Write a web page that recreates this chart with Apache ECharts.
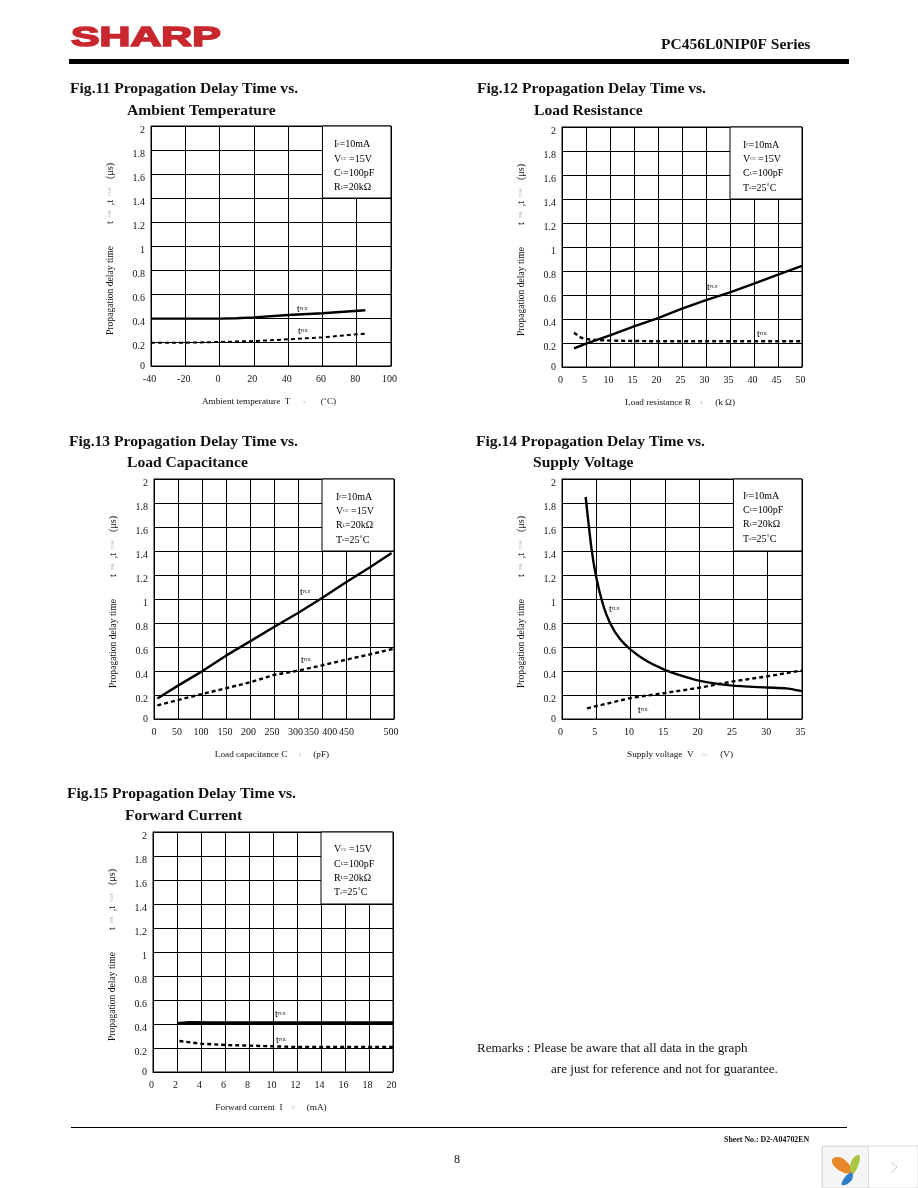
<!DOCTYPE html>
<html><head><meta charset="utf-8">
<style>html,body{margin:0;padding:0;background:#fff}#c{width:918px;height:1188px}</style>
<script src="https://cdn.jsdelivr.net/npm/echarts@6/dist/echarts.min.js"></script>
</head><body><div id="c"></div>
<script>
// ---------- data ----------
const yTicks = [0,0.2,0.4,0.6,0.8,1,1.2,1.4,1.6,1.8,2];

const f11PlhX = [-40,-20,0,10,20,40,60,85];
const f11PlhY = [0.395,0.395,0.395,0.398,0.405,0.425,0.44,0.465];
const f11PhlX = [-40,-20,0,20,40,60,85];
const f11PhlY = [0.194,0.194,0.2,0.208,0.222,0.239,0.27];

const f12PlhX = [2.5,5,10,15,20,25,30,35,40,45,50];
const f12PlhY = [0.155,0.195,0.264,0.339,0.408,0.486,0.558,0.622,0.694,0.77,0.842];
const f12PhlX = [2.5,4,5,7,10,20,50];
const f12PhlY = [0.286,0.244,0.233,0.225,0.22,0.214,0.214];

const f13PlhX = [7,50,100,150,200,250,300,350,400,450,495];
const f13PlhY = [0.17,0.278,0.397,0.528,0.647,0.767,0.883,1.008,1.14,1.264,1.383];
const f13PhlX = [7,50,100,150,200,250,300,350,400,450,500];
const f13PhlY = [0.114,0.158,0.208,0.256,0.306,0.367,0.403,0.447,0.494,0.539,0.586];
const f13TickValues = [0,50,100,150,200,250,300,350,400,450,500];
const f13TickAnchors = [0,48,98,148,197,246,295,328,366,401,494];

const f14PlhX = [3.45,4.3,5,6,7,8.4,10,12.3,15,17.5,20,22.5,25,30,32.7,35];
const f14PlhY = [1.85,1.42,1.18,0.95,0.8,0.67,0.578,0.485,0.41,0.36,0.32,0.295,0.278,0.262,0.255,0.232];
const f14PhlX = [3.65,10,15,20,25,30,35];
const f14PhlY = [0.089,0.175,0.217,0.26,0.314,0.356,0.405];

const f15PlhX = [2,3,5,10,15,20];
const f15PlhY = [0.405,0.412,0.41,0.41,0.41,0.41];
const f15PhlX = [2.2,4,6,8,10,12,20];
const f15PhlY = [0.258,0.236,0.225,0.22,0.214,0.208,0.208];

const notes11 = [['I','F','=10mA'],['V','CC',' =15V'],['C','L','=100pF'],['R','L','=20kΩ']];
const notes12 = [['I','F','=10mA'],['V','CC',' =15V'],['C','L','=100pF'],['T','a','=25˚C']];
const notes13 = [['I','F','=10mA'],['V','CC',' =15V'],['R','L','=20kΩ'],['T','a','=25˚C']];
const notes14 = [['I','F','=10mA'],['C','L','=100pF'],['R','L','=20kΩ'],['T','a','=25˚C']];
const notes15 = [['V','CC',' =15V'],['C','L','=100pF'],['R','L','=20kΩ'],['T','a','=25˚C']];

// ---------- layout ----------
const SERIF = '"Liberation Serif","Times New Roman",serif';
const richBase = {
  m:{fontFamily:SERIF,fontSize:10,color:'#111'},
  a:{fontFamily:SERIF,fontSize:9.2,color:'#111'},
  ay:{fontFamily:SERIF,fontSize:9.6,color:'#111'},
  s:{fontFamily:SERIF,fontSize:4,color:'#999'},
  g:{fontFamily:SERIF,fontSize:4,color:'#999',width:22,align:'right'},
  g2:{fontFamily:SERIF,fontSize:4,color:'#999',width:26,align:'right'},
  g3:{fontFamily:SERIF,fontSize:4,color:'#999',width:28,align:'right'},
  gy:{fontFamily:SERIF,fontSize:4,color:'#999',width:16,align:'center'},
  sp:{width:22,fontSize:4},
  e:{width:4,fontSize:4},
  ey:{width:6,fontSize:4}
};
const figs = [
 {l:151,t:126,xMin:-40,xMax:100,xInt:20,box:[60,1.4],
  plh:[f11PlhX,f11PlhY],phl:[f11PhlX,f11PhlY],plhW:2.4,phlW:2,
  title:['Fig.11 Propagation Delay Time vs.','Ambient Temperature'],tx:70,ty:89,t2x:127,t2y:111,
  xName:'{a|Ambient temperature  T}{g3|a}{a| (˚C)}{e|}',notes:notes11,nx:334,ny:144.5,
  plhAt:[297,309],phlAt:[298,331]},
 {l:562,t:127,xMin:0,xMax:50,xInt:5,box:[35,1.4],
  plh:[f12PlhX,f12PlhY],phl:[f12PhlX,f12PhlY],plhW:2.4,phlW:2.4,
  title:['Fig.12 Propagation Delay Time vs.','Load Resistance'],tx:477,ty:89,t2x:534,t2y:111,
  xName:'{a|Load resistance R}{g|L}{a| (k Ω)}{e|}',notes:notes12,nx:743,ny:145,
  plhAt:[707,287],phlAt:[757,334]},
 {l:154,t:479,xMin:0,xMax:500,xInt:50,box:[350,1.4],
  plh:[f13PlhX,f13PlhY],phl:[f13PhlX,f13PhlY],plhW:2.4,phlW:2.4,
  title:['Fig.13 Propagation Delay Time vs.','Load Capacitance'],tx:69,ty:442,t2x:127,t2y:463,
  xName:'{a|Load capacitance C}{g2|L}{a|(pF)}{e|}',notes:notes13,nx:336,ny:497,
  plhAt:[300,592],phlAt:[301,660],custom:true},
 {l:562,t:479,xMin:0,xMax:35,xInt:5,box:[25,1.4],
  plh:[f14PlhX,f14PlhY],phl:[f14PhlX,f14PhlY],plhW:2.4,phlW:2.4,smooth:true,
  title:['Fig.14 Propagation Delay Time vs.','Supply Voltage'],tx:476,ty:442,t2x:533,t2y:463,
  xName:'{a|Supply voltage  V}{g|CC}{a|  (V)}{e|}',notes:notes14,nx:743,ny:496,
  plhAt:[609,609],phlAt:[638,710]},
 {l:153,t:832,xMin:0,xMax:20,xInt:2,box:[14,1.4],
  plh:[f15PlhX,f15PlhY],phl:[f15PhlX,f15PhlY],plhW:3,phlW:2.4,
  title:['Fig.15 Propagation Delay Time vs.','Forward Current'],tx:67,ty:794,t2x:125,t2y:816,
  xName:'{a|Forward current  I}{g|F}{a| (mA)}{e|}',notes:notes15,nx:334,ny:849.5,
  plhAt:[275,1014],phlAt:[276,1040]}
];

const grids=[],xAxes=[],yAxes=[],series=[],gfx=[];
figs.forEach((f,i)=>{
  grids.push({left:f.l,top:f.t,width:240,height:240,show:true,borderColor:'#000',borderWidth:1,backgroundColor:'#fff'});
  const labelCfg={color:'#111',fontFamily:SERIF,fontSize:10,margin:8,padding:f.custom?0:[0,3,0,0]};
  if(f.custom){
    labelCfg.customValues=f13TickAnchors;
    labelCfg.formatter=v=>String(f13TickValues[f13TickAnchors.indexOf(v)]);
  }
  xAxes.push({type:'value',gridIndex:i,min:f.xMin,max:f.xMax,interval:f.xInt,
    axisLine:{show:true,onZero:false,lineStyle:{color:'#000',width:1}},axisTick:{show:false},
    splitLine:{show:true,lineStyle:{color:'#000',width:1}},axisLabel:labelCfg,
    name:f.xName,nameLocation:'middle',nameGap:31,nameTextStyle:{rich:richBase}});
  yAxes.push({type:'value',gridIndex:i,min:0,max:2,interval:0.2,
    axisLine:{show:true,lineStyle:{color:'#000',width:1}},axisTick:{show:false},
    splitLine:{show:true,lineStyle:{color:'#000',width:1}},
    axisLabel:{margin:6,formatter:v=>{const s=String(yTicks[Math.round(v/0.2)]);return v===0?'{z|'+s+'}':'{n|'+s+'}';},
      rich:{n:{fontFamily:SERIF,fontSize:10,color:'#111',padding:[8,0,0,0]},
            z:{fontFamily:SERIF,fontSize:10,color:'#111'}}},
    name:'{ay|Propagation delay time}{sp|}{m|t}{gy|PHL}{m|,t}{gy|PLH}{m|  (μs)}{ey|}',nameLocation:'middle',nameGap:36,nameRotate:90,
    nameTextStyle:{rich:richBase}});
  series.push({type:'line',xAxisIndex:i,yAxisIndex:i,name:'tPLH',showSymbol:false,symbol:'none',smooth:f.smooth?0.2:false,
    data:f.plh[0].map((x,k)=>[x,f.plh[1][k]]),lineStyle:{color:'#000',width:f.plhW},z:4,silent:true,
    markArea:{silent:true,itemStyle:{color:'#fff',borderColor:'#000',borderWidth:1},
      data:[[{coord:[f.box[0],f.box[1]]},{coord:[f.xMax,2]}]]}});
  series.push({type:'line',xAxisIndex:i,yAxisIndex:i,name:'tPHL',showSymbol:false,symbol:'none',smooth:false,
    data:f.phl[0].map((x,k)=>[x,f.phl[1][k]]),lineStyle:{color:'#000',width:f.phlW,type:[4,3]},z:4,silent:true});
  gfx.push({type:'text',x:f.tx,y:f.ty,style:{text:f.title[0],font:'bold 15.6px '+SERIF,fill:'#111',verticalAlign:'middle'}});
  gfx.push({type:'text',x:f.t2x,y:f.t2y,style:{text:f.title[1],font:'bold 15.6px '+SERIF,fill:'#111',verticalAlign:'middle'}});
  f.notes.forEach((n,k)=>gfx.push({type:'text',x:f.nx,y:f.ny+k*14.4,z:10,
    style:{text:'{m|'+n[0]+'}{s|'+n[1]+'}{m|'+n[2]+'}',rich:richBase,verticalAlign:'middle'}}));
  gfx.push({type:'text',x:f.plhAt[0],y:f.plhAt[1],z:10,style:{text:'{m|t}{s|PLH}',rich:richBase,verticalAlign:'middle'}});
  gfx.push({type:'text',x:f.phlAt[0],y:f.phlAt[1],z:10,style:{text:'{m|t}{s|PHL}',rich:richBase,verticalAlign:'middle'}});
});

// page furniture
gfx.push({type:'text',x:71,y:38,scaleX:1.5,style:{text:'SHARP',font:'bold 28.5px "Liberation Sans",sans-serif',fill:'#c8272e',stroke:'#c8272e',lineWidth:1.6,verticalAlign:'middle'}});
gfx.push({type:'text',x:661,y:45,style:{text:'PC456L0NIP0F Series',font:'bold 15.5px '+SERIF,fill:'#111',verticalAlign:'middle'}});
gfx.push({type:'rect',shape:{x:69,y:59,width:780,height:5},style:{fill:'#000'}});
gfx.push({type:'rect',shape:{x:71,y:1127,width:776,height:1},style:{fill:'#000'}});
gfx.push({type:'text',x:477,y:1049,style:{text:'Remarks : Please be aware that all data in the graph',font:'13.1px '+SERIF,fill:'#111',verticalAlign:'middle'}});
gfx.push({type:'text',x:551,y:1070,style:{text:'are just for reference and not for guarantee.',font:'13.1px '+SERIF,fill:'#111',verticalAlign:'middle'}});
gfx.push({type:'text',x:724,y:1140,style:{text:'Sheet No.: D2-A04702EN',font:'bold 7.9px '+SERIF,fill:'#111',verticalAlign:'middle'}});
gfx.push({type:'text',x:457,y:1160,style:{text:'8',font:'12px '+SERIF,fill:'#111',align:'center',verticalAlign:'middle'}});
// corner widget
gfx.push({type:'rect',shape:{x:822,y:1146,width:96,height:42},style:{fill:'#fff',stroke:'#ddd',lineWidth:1}});
gfx.push({type:'rect',shape:{x:822.5,y:1146.5,width:46,height:41.5},style:{fill:'#f5f5f5',stroke:'#ddd',lineWidth:1}});
gfx.push({type:'polygon',shape:{smooth:0.5,points:[[832,1160],[842,1158],[852,1172],[840,1171]]},style:{fill:'#e8862a'}});
gfx.push({type:'polygon',shape:{smooth:0.5,points:[[859,1155],[858,1166],[852,1174],[851,1162]]},style:{fill:'#a9c644'}});
gfx.push({type:'polygon',shape:{smooth:0.5,points:[[852,1173],[851,1181],[842,1185],[845,1177]]},style:{fill:'#2f7fc8'}});
gfx.push({type:'polyline',shape:{points:[[891,1162],[897,1167],[891,1173]]},style:{stroke:'#c8c8c8',lineWidth:1,fill:'none'}});

const chart=echarts.init(document.getElementById('c'),null,{renderer:'canvas'});
chart.setOption({animation:false,backgroundColor:'#fff',grid:grids,xAxis:xAxes,yAxis:yAxes,series:series,graphic:{elements:gfx}});
</script></body></html>
